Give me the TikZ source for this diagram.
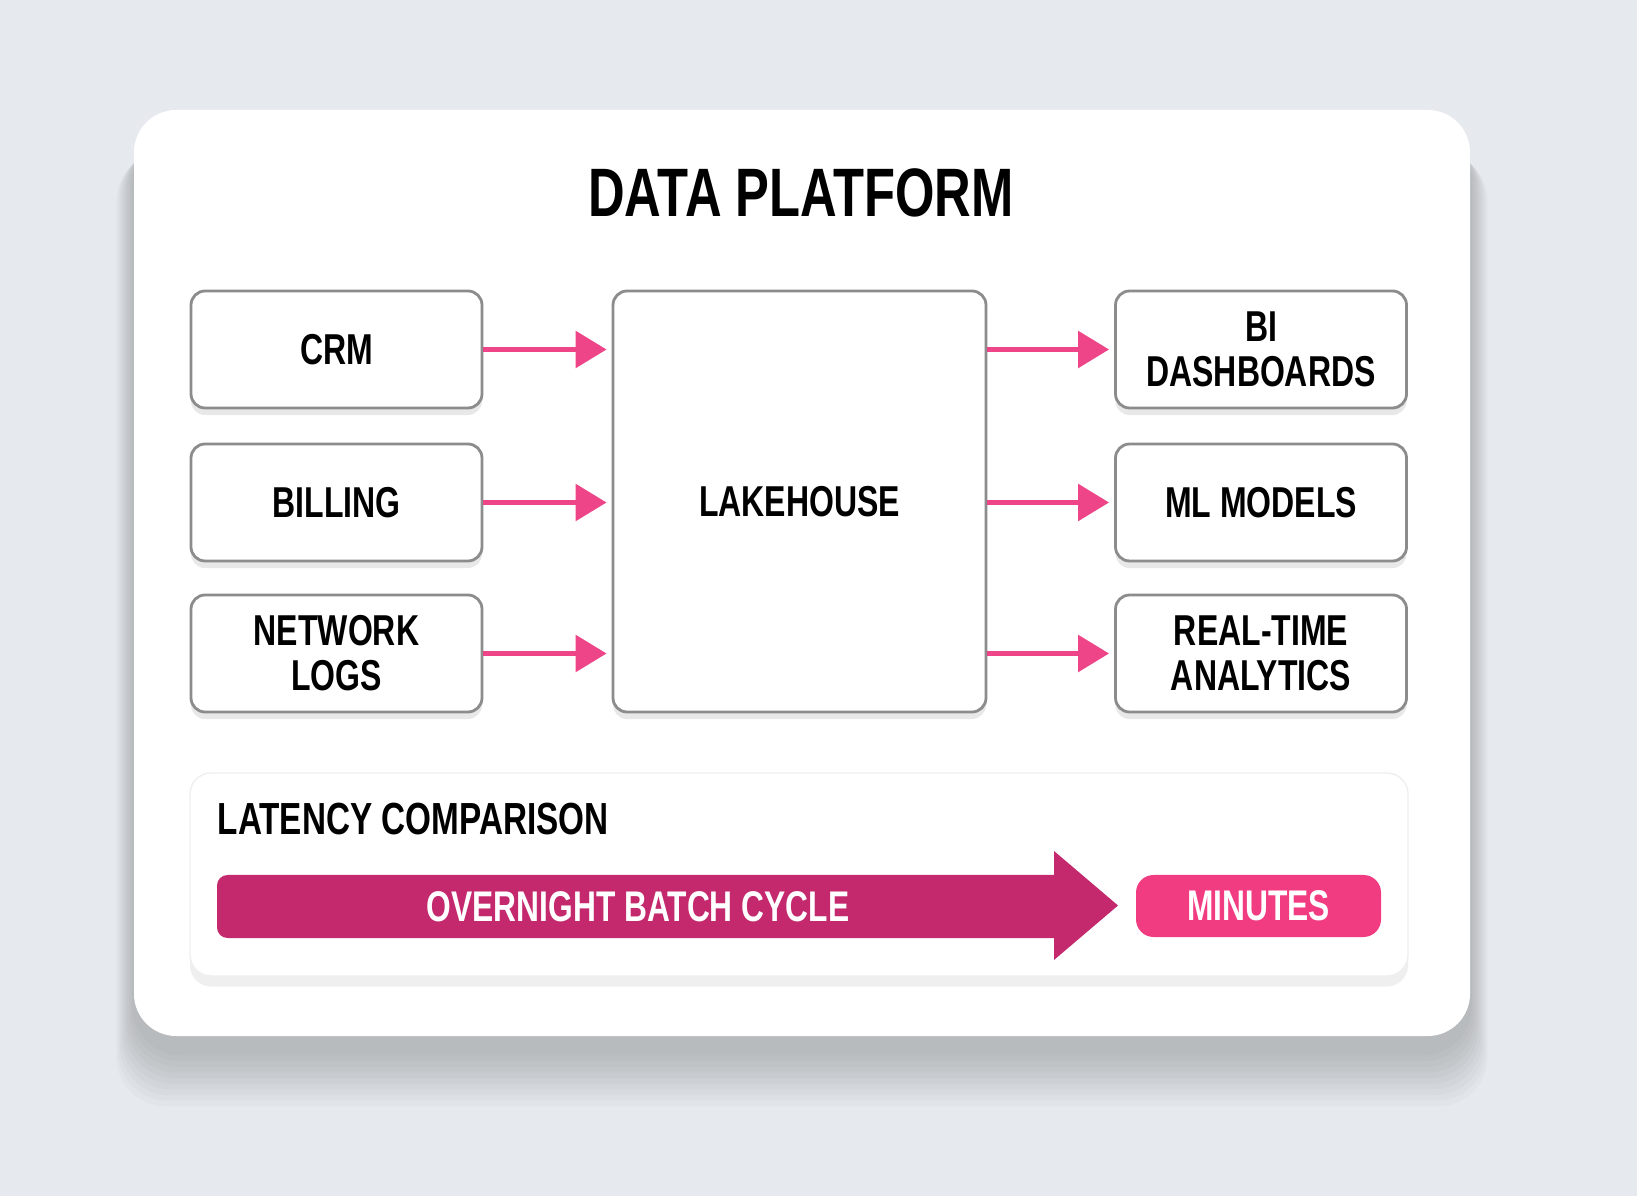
\documentclass[tikz,border=0pt]{standalone}
\usepackage{fontspec}
\setmainfont{Liberation Sans}[FakeStretch=0.74]
\usetikzlibrary{shadows,arrows.meta,positioning}
\definecolor{bgcol}{HTML}{E6E9ED}
\definecolor{boxline}{HTML}{8C8C8C}
\definecolor{arrowpink}{HTML}{EE4488}
\definecolor{batchcol}{HTML}{C4296E}
\definecolor{minpink}{HTML}{F23C82}
\definecolor{panelline}{HTML}{EFEFEF}
\tikzset{
    card/.style={fill=white, rounded corners=12pt},
    flowbox/.style={draw=boxline, line width=0.8pt, fill=white, rounded corners=4pt,
        minimum width=2.91cm, minimum height=1.17cm, align=center,
        font=\fontsize{12.3}{12.8}\selectfont\bfseries,
        drop shadow={opacity=0.18, shadow xshift=0pt, shadow yshift=-2pt}},
    flow/.style={arrowpink, line width=1.6pt, shorten >=0.5mm,
        -{Triangle[length=3.1mm,width=3.6mm]}},
}
\begin{document}
\begin{tikzpicture}
    \useasboundingbox (0,0) rectangle (16.37,-11.96);
    % 背景
    \fill[bgcol] (0,0) rectangle (16.37,-11.96);
    \coordinate (cardnw) at (1.34,-1.10);
    \coordinate (cardse) at (14.70,-10.36);
    \foreach \i in {1,...,10}
        \fill[black, opacity=0.02, rounded corners=14pt]
            ([xshift=-0.5*\i pt, yshift=-6pt-0.6*\i pt]cardnw) rectangle ([xshift=0.5*\i pt, yshift=-4pt-1.6*\i pt]cardse);
    \node[card, minimum width=13.36cm, minimum height=9.26cm] (card) at (8.02,-5.73) {};

    % タイトル
    \node[font=\fontsize{19.5}{20}\selectfont\bfseries] (title) at (8.01,-1.93) {DATA PLATFORM};

    % 入力側
    \node[flowbox] (crm) at (3.365,-3.495) {CRM};
    \node[flowbox] (billing) at (3.365,-5.025) {BILLING};
    \node[flowbox] (netlogs) at (3.365,-6.535) {NETWORK\\LOGS};

    % 中央
    \node[flowbox, minimum width=3.73cm, minimum height=4.21cm] (lake) at (7.995,-5.015) {LAKEHOUSE};

    % 出力側
    \node[flowbox] (bidash) at (12.61,-3.495) {BI\\DASHBOARDS};
    \node[flowbox] (mlmodels) at (12.61,-5.025) {ML MODELS};
    \node[flowbox] (realtime) at (12.61,-6.535) {REAL-TIME\\ANALYTICS};

    % 矢印
    \draw[flow] (crm.east) -- (crm.east -| lake.west);
    \draw[flow] (billing.east) -- (billing.east -| lake.west);
    \draw[flow] (netlogs.east) -- (netlogs.east -| lake.west);
    \draw[flow] (lake.east |- bidash) -- (bidash.west);
    \draw[flow] (lake.east |- mlmodels) -- (mlmodels.west);
    \draw[flow] (lake.east |- realtime) -- (realtime.west);

    % レイテンシ比較
    \node[fill=white, draw=panelline, rounded corners=6pt, minimum width=12.18cm, minimum height=2.03cm,
        drop shadow={opacity=0.12, shadow xshift=0pt, shadow yshift=-3pt}] (panel) at (7.99,-8.745) {};
    \node[anchor=base west, inner sep=0pt, font=\fontsize{12.8}{13}\selectfont\bfseries] (lattitle) at (2.17,-8.35) {LATENCY COMPARISON};

    \fill[batchcol, rounded corners=3pt] (2.17,-9.065) -- (2.17,-8.75) -- (6,-8.75) [sharp corners] -- (10.54,-8.75)
        -- (10.54,-8.51) -- (11.18,-9.055) -- (10.54,-9.60) -- (10.54,-9.38) -- (6,-9.38) [rounded corners=3pt] -- (2.17,-9.38) -- cycle;
    \node[text=white, font=\fontsize{12.2}{13}\selectfont\bfseries] (batch) at (6.38,-9.065) {OVERNIGHT BATCH CYCLE};

    \node[fill=minpink, rounded corners=5pt, minimum width=2.45cm, minimum height=0.62cm, text=white,
        font=\fontsize{12.2}{13}\selectfont\bfseries] (mins) at (12.585,-9.06) {MINUTES};
\end{tikzpicture}
\end{document}
